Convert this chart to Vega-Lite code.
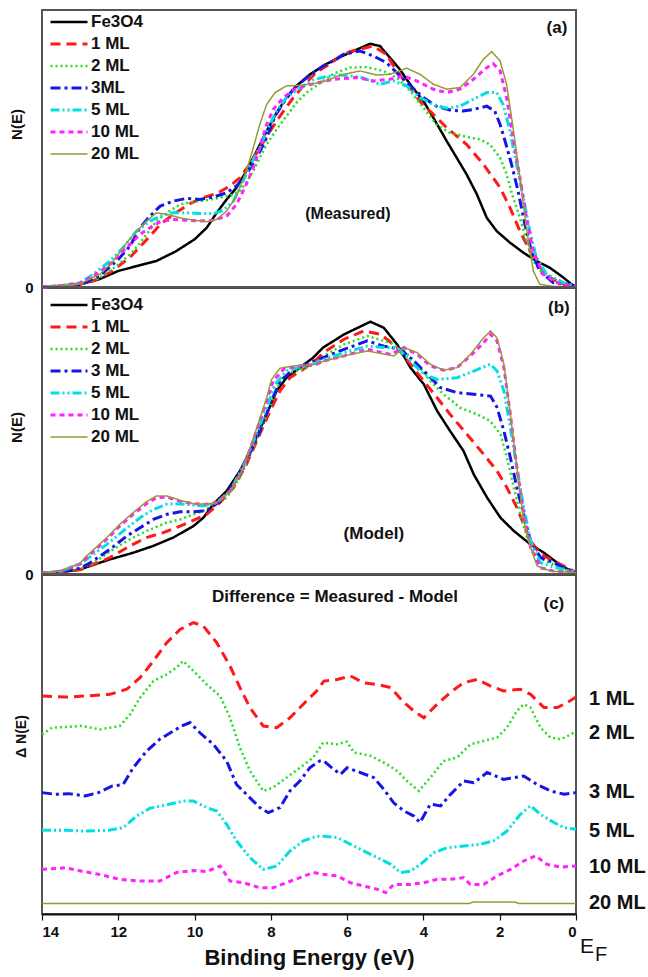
{
"$schema":"https://vega.github.io/schema/vega-lite/v6.json",
"padding":{"left":8,"top":9,"right":2,"bottom":5},
"background":"white",
"spacing":0,
"bounds":"flush",
"config":{"font":"Liberation Sans","view":{"stroke":"#555","strokeWidth":2},
"legend":{"orient":"none","padding":0,"symbolType":"stroke","symbolSize":1369,"labelFontSize":17,"labelFontWeight":"bold","labelFont":"Liberation Sans","labelColor":"#111","rowPadding":0,"clipHeight":21.8,"labelOffset":2}},
"datasets":{
"a":[
{"s":"Fe3O4","E":14,"v":0},{"s":"Fe3O4","E":13.5,"v":0.4},{"s":"Fe3O4","E":13,"v":1},{"s":"Fe3O4","E":12.5,"v":2.8},{"s":"Fe3O4","E":12,"v":5.8},{"s":"Fe3O4","E":11.5,"v":7.6},{"s":"Fe3O4","E":11,"v":9.4},{"s":"Fe3O4","E":10.5,"v":12.8},{"s":"Fe3O4","E":10,"v":17.2},{"s":"Fe3O4","E":9.68,"v":21.4},{"s":"Fe3O4","E":9.42,"v":26.8},{"s":"Fe3O4","E":9.16,"v":31.6},{"s":"Fe3O4","E":8.9,"v":35.9},{"s":"Fe3O4","E":8.64,"v":41.9},{"s":"Fe3O4","E":8.37,"v":49.1},{"s":"Fe3O4","E":8.11,"v":56.3},{"s":"Fe3O4","E":7.85,"v":62.9},{"s":"Fe3O4","E":7.59,"v":68.4},{"s":"Fe3O4","E":7.33,"v":72.6},{"s":"Fe3O4","E":6.97,"v":76.8},{"s":"Fe3O4","E":6.63,"v":79.8},{"s":"Fe3O4","E":6.28,"v":82.4},{"s":"Fe3O4","E":5.93,"v":84.6},{"s":"Fe3O4","E":5.4,"v":87.8},{"s":"Fe3O4","E":5.14,"v":87},{"s":"Fe3O4","E":4.88,"v":82.8},{"s":"Fe3O4","E":4.62,"v":78.6},{"s":"Fe3O4","E":4.35,"v":73.2},{"s":"Fe3O4","E":4.0,"v":67.1},{"s":"Fe3O4","E":3.74,"v":61.1},{"s":"Fe3O4","E":3.39,"v":52.7},{"s":"Fe3O4","E":3.13,"v":46.7},{"s":"Fe3O4","E":2.87,"v":40.7},{"s":"Fe3O4","E":2.6,"v":33.5},{"s":"Fe3O4","E":2.34,"v":25},{"s":"Fe3O4","E":2.08,"v":20.2},{"s":"Fe3O4","E":1.73,"v":16},{"s":"Fe3O4","E":1.38,"v":12.4},{"s":"Fe3O4","E":1.04,"v":9.4},{"s":"Fe3O4","E":0.69,"v":7},{"s":"Fe3O4","E":0.33,"v":3.4},{"s":"Fe3O4","E":0.12,"v":1},{"s":"Fe3O4","E":0,"v":0.2},
{"s":"1 ML","E":14,"v":0},{"s":"1 ML","E":13.5,"v":0.3},{"s":"1 ML","E":13,"v":1},{"s":"1 ML","E":12.65,"v":2.2},{"s":"1 ML","E":12.22,"v":5.2},{"s":"1 ML","E":11.7,"v":10.6},{"s":"1 ML","E":11.17,"v":18.4},{"s":"1 ML","E":10.9,"v":22.6},{"s":"1 ML","E":10.56,"v":26.2},{"s":"1 ML","E":10.12,"v":30.1},{"s":"1 ML","E":9.77,"v":32.3},{"s":"1 ML","E":9.42,"v":33.7},{"s":"1 ML","E":9.07,"v":36.5},{"s":"1 ML","E":8.81,"v":39.5},{"s":"1 ML","E":8.55,"v":44.3},{"s":"1 ML","E":8.29,"v":50.3},{"s":"1 ML","E":8.02,"v":56.3},{"s":"1 ML","E":7.76,"v":61.7},{"s":"1 ML","E":7.41,"v":68.4},{"s":"1 ML","E":7.15,"v":72.6},{"s":"1 ML","E":6.8,"v":77.6},{"s":"1 ML","E":6.45,"v":80.6},{"s":"1 ML","E":6.19,"v":83.2},{"s":"1 ML","E":5.93,"v":85},{"s":"1 ML","E":5.32,"v":87},{"s":"1 ML","E":4.97,"v":84},{"s":"1 ML","E":4.7,"v":78},{"s":"1 ML","E":4.35,"v":72},{"s":"1 ML","E":4.09,"v":67},{"s":"1 ML","E":3.74,"v":62.3},{"s":"1 ML","E":3.39,"v":57.5},{"s":"1 ML","E":2.87,"v":51.5},{"s":"1 ML","E":2.43,"v":44.3},{"s":"1 ML","E":1.99,"v":35.9},{"s":"1 ML","E":1.73,"v":28.6},{"s":"1 ML","E":1.47,"v":20.2},{"s":"1 ML","E":1.21,"v":13},{"s":"1 ML","E":0.93,"v":7},{"s":"1 ML","E":0.68,"v":3.4},{"s":"1 ML","E":0.33,"v":1},{"s":"1 ML","E":0,"v":0.2},
{"s":"2 ML","E":14,"v":0},{"s":"2 ML","E":13.5,"v":0.3},{"s":"2 ML","E":13,"v":1},{"s":"2 ML","E":12.48,"v":3.4},{"s":"2 ML","E":12.04,"v":7.6},{"s":"2 ML","E":11.6,"v":13},{"s":"2 ML","E":11.26,"v":19},{"s":"2 ML","E":11,"v":23.8},{"s":"2 ML","E":10.73,"v":26.8},{"s":"2 ML","E":10.38,"v":29.8},{"s":"2 ML","E":10.03,"v":30.8},{"s":"2 ML","E":9.68,"v":31.3},{"s":"2 ML","E":9.33,"v":32.3},{"s":"2 ML","E":9.07,"v":32.9},{"s":"2 ML","E":8.81,"v":34.7},{"s":"2 ML","E":8.64,"v":37.7},{"s":"2 ML","E":8.46,"v":41.9},{"s":"2 ML","E":8.29,"v":46.7},{"s":"2 ML","E":8.11,"v":51.5},{"s":"2 ML","E":7.85,"v":56.9},{"s":"2 ML","E":7.59,"v":61.7},{"s":"2 ML","E":7.33,"v":66.5},{"s":"2 ML","E":7.06,"v":70.2},{"s":"2 ML","E":6.71,"v":73.6},{"s":"2 ML","E":6.36,"v":77},{"s":"2 ML","E":5.93,"v":79.2},{"s":"2 ML","E":5.49,"v":79.4},{"s":"2 ML","E":5.05,"v":78},{"s":"2 ML","E":4.7,"v":75.6},{"s":"2 ML","E":4.35,"v":70.8},{"s":"2 ML","E":4.0,"v":64.7},{"s":"2 ML","E":3.66,"v":58.7},{"s":"2 ML","E":3.31,"v":55.7},{"s":"2 ML","E":2.87,"v":54.2},{"s":"2 ML","E":2.52,"v":53.3},{"s":"2 ML","E":2.26,"v":51.5},{"s":"2 ML","E":1.99,"v":46.7},{"s":"2 ML","E":1.82,"v":40.7},{"s":"2 ML","E":1.65,"v":32.3},{"s":"2 ML","E":1.47,"v":25},{"s":"2 ML","E":1.3,"v":16.6},{"s":"2 ML","E":1.12,"v":9.4},{"s":"2 ML","E":0.86,"v":4.6},{"s":"2 ML","E":0.51,"v":1.9},{"s":"2 ML","E":0,"v":0.2},
{"s":"3 ML","E":14,"v":0},{"s":"3 ML","E":13.5,"v":0.3},{"s":"3 ML","E":13,"v":0.7},{"s":"3 ML","E":12.5,"v":4},{"s":"3 ML","E":12.04,"v":9.4},{"s":"3 ML","E":11.69,"v":14.8},{"s":"3 ML","E":11.43,"v":21.4},{"s":"3 ML","E":11.17,"v":25.6},{"s":"3 ML","E":10.9,"v":29.2},{"s":"3 ML","E":10.56,"v":31},{"s":"3 ML","E":10.21,"v":32},{"s":"3 ML","E":9.86,"v":31.6},{"s":"3 ML","E":9.51,"v":32.5},{"s":"3 ML","E":9.16,"v":34},{"s":"3 ML","E":8.9,"v":36.5},{"s":"3 ML","E":8.64,"v":40.7},{"s":"3 ML","E":8.37,"v":46.7},{"s":"3 ML","E":8.11,"v":53.9},{"s":"3 ML","E":7.89,"v":61.7},{"s":"3 ML","E":7.67,"v":66.5},{"s":"3 ML","E":7.41,"v":71.4},{"s":"3 ML","E":7.06,"v":75.6},{"s":"3 ML","E":6.63,"v":79.8},{"s":"3 ML","E":6.28,"v":82.2},{"s":"3 ML","E":6.1,"v":84},{"s":"3 ML","E":5.66,"v":85.2},{"s":"3 ML","E":5.31,"v":83.4},{"s":"3 ML","E":4.97,"v":81},{"s":"3 ML","E":4.7,"v":77.4},{"s":"3 ML","E":4.35,"v":72.6},{"s":"3 ML","E":4.0,"v":68.4},{"s":"3 ML","E":3.66,"v":65.3},{"s":"3 ML","E":3.31,"v":63.9},{"s":"3 ML","E":2.96,"v":63.5},{"s":"3 ML","E":2.69,"v":64.1},{"s":"3 ML","E":2.34,"v":65.3},{"s":"3 ML","E":2.13,"v":63.5},{"s":"3 ML","E":1.99,"v":58.7},{"s":"3 ML","E":1.86,"v":52.7},{"s":"3 ML","E":1.69,"v":44.3},{"s":"3 ML","E":1.52,"v":34.7},{"s":"3 ML","E":1.34,"v":22.6},{"s":"3 ML","E":1.17,"v":13},{"s":"3 ML","E":0.95,"v":5.8},{"s":"3 ML","E":0.6,"v":1.6},{"s":"3 ML","E":0,"v":0.2},
{"s":"5 ML","E":14,"v":0},{"s":"5 ML","E":13.5,"v":0.4},{"s":"5 ML","E":13,"v":1.5},{"s":"5 ML","E":12.65,"v":4.6},{"s":"5 ML","E":12.22,"v":9.4},{"s":"5 ML","E":11.87,"v":14.2},{"s":"5 ML","E":11.52,"v":20.2},{"s":"5 ML","E":11.17,"v":23.8},{"s":"5 ML","E":10.9,"v":25.6},{"s":"5 ML","E":10.56,"v":26.8},{"s":"5 ML","E":10.21,"v":26.8},{"s":"5 ML","E":9.86,"v":26.5},{"s":"5 ML","E":9.51,"v":26.5},{"s":"5 ML","E":9.25,"v":27.7},{"s":"5 ML","E":8.98,"v":31},{"s":"5 ML","E":8.77,"v":37},{"s":"5 ML","E":8.55,"v":43.7},{"s":"5 ML","E":8.29,"v":50.3},{"s":"5 ML","E":8.07,"v":57.5},{"s":"5 ML","E":7.85,"v":63.5},{"s":"5 ML","E":7.59,"v":68.4},{"s":"5 ML","E":7.24,"v":71.8},{"s":"5 ML","E":6.89,"v":74.8},{"s":"5 ML","E":6.54,"v":76},{"s":"5 ML","E":6.19,"v":76.5},{"s":"5 ML","E":5.66,"v":75.8},{"s":"5 ML","E":5.14,"v":73.2},{"s":"5 ML","E":4.79,"v":74.4},{"s":"5 ML","E":4.44,"v":72.6},{"s":"5 ML","E":4.09,"v":68.4},{"s":"5 ML","E":3.74,"v":65.9},{"s":"5 ML","E":3.39,"v":64.5},{"s":"5 ML","E":3.04,"v":65.3},{"s":"5 ML","E":2.69,"v":67.8},{"s":"5 ML","E":2.34,"v":70.2},{"s":"5 ML","E":2.08,"v":70.2},{"s":"5 ML","E":1.91,"v":65.9},{"s":"5 ML","E":1.73,"v":56.3},{"s":"5 ML","E":1.56,"v":44.3},{"s":"5 ML","E":1.38,"v":32.3},{"s":"5 ML","E":1.21,"v":20.2},{"s":"5 ML","E":1.04,"v":10.6},{"s":"5 ML","E":0.77,"v":4.6},{"s":"5 ML","E":0.33,"v":1.6},{"s":"5 ML","E":0,"v":0.2},
{"s":"10 ML","E":14,"v":0},{"s":"10 ML","E":13.5,"v":0.5},{"s":"10 ML","E":13,"v":1.5},{"s":"10 ML","E":12.65,"v":4},{"s":"10 ML","E":12.22,"v":8.2},{"s":"10 ML","E":11.78,"v":14.2},{"s":"10 ML","E":11.43,"v":19},{"s":"10 ML","E":11.17,"v":21.4},{"s":"10 ML","E":10.9,"v":23.6},{"s":"10 ML","E":10.56,"v":24.4},{"s":"10 ML","E":10.21,"v":24.1},{"s":"10 ML","E":9.86,"v":23.8},{"s":"10 ML","E":9.51,"v":24.1},{"s":"10 ML","E":9.16,"v":25.6},{"s":"10 ML","E":8.9,"v":29.8},{"s":"10 ML","E":8.68,"v":35.9},{"s":"10 ML","E":8.46,"v":43.1},{"s":"10 ML","E":8.29,"v":50.3},{"s":"10 ML","E":8.11,"v":58.7},{"s":"10 ML","E":7.94,"v":64.1},{"s":"10 ML","E":7.67,"v":68.4},{"s":"10 ML","E":7.33,"v":71.8},{"s":"10 ML","E":6.89,"v":73.4},{"s":"10 ML","E":6.36,"v":75},{"s":"10 ML","E":5.75,"v":75.6},{"s":"10 ML","E":5.31,"v":74.4},{"s":"10 ML","E":4.88,"v":75},{"s":"10 ML","E":4.53,"v":76.2},{"s":"10 ML","E":4.18,"v":74.4},{"s":"10 ML","E":3.74,"v":71.4},{"s":"10 ML","E":3.39,"v":70.2},{"s":"10 ML","E":3.04,"v":71.4},{"s":"10 ML","E":2.69,"v":75},{"s":"10 ML","E":2.34,"v":79.2},{"s":"10 ML","E":2.17,"v":80.6},{"s":"10 ML","E":1.99,"v":78},{"s":"10 ML","E":1.82,"v":68.4},{"s":"10 ML","E":1.65,"v":54},{"s":"10 ML","E":1.47,"v":39.5},{"s":"10 ML","E":1.3,"v":25},{"s":"10 ML","E":1.12,"v":13},{"s":"10 ML","E":0.86,"v":4.6},{"s":"10 ML","E":0.51,"v":1.6},{"s":"10 ML","E":0,"v":0.2},
{"s":"20 ML","E":14,"v":0},{"s":"20 ML","E":13.5,"v":0.5},{"s":"20 ML","E":13,"v":1.2},{"s":"20 ML","E":12.48,"v":4.6},{"s":"20 ML","E":12.13,"v":9.4},{"s":"20 ML","E":11.78,"v":16},{"s":"20 ML","E":11.52,"v":20.2},{"s":"20 ML","E":11.26,"v":23.8},{"s":"20 ML","E":11,"v":26.8},{"s":"20 ML","E":10.73,"v":26.2},{"s":"20 ML","E":10.38,"v":25},{"s":"20 ML","E":10.03,"v":24.1},{"s":"20 ML","E":9.68,"v":23.6},{"s":"20 ML","E":9.42,"v":24.4},{"s":"20 ML","E":9.16,"v":27.4},{"s":"20 ML","E":8.9,"v":32.9},{"s":"20 ML","E":8.64,"v":41.9},{"s":"20 ML","E":8.46,"v":50.3},{"s":"20 ML","E":8.29,"v":58.7},{"s":"20 ML","E":8.11,"v":65.9},{"s":"20 ML","E":7.89,"v":70.2},{"s":"20 ML","E":7.59,"v":72.6},{"s":"20 ML","E":7.24,"v":72.8},{"s":"20 ML","E":6.89,"v":73.4},{"s":"20 ML","E":6.54,"v":74.4},{"s":"20 ML","E":6.19,"v":76.5},{"s":"20 ML","E":5.66,"v":78},{"s":"20 ML","E":5.23,"v":76.5},{"s":"20 ML","E":4.88,"v":76.8},{"s":"20 ML","E":4.44,"v":79},{"s":"20 ML","E":4.09,"v":76.8},{"s":"20 ML","E":3.74,"v":73.2},{"s":"20 ML","E":3.39,"v":71.4},{"s":"20 ML","E":3.04,"v":72},{"s":"20 ML","E":2.69,"v":76.8},{"s":"20 ML","E":2.43,"v":82.2},{"s":"20 ML","E":2.21,"v":85},{"s":"20 ML","E":1.99,"v":81.6},{"s":"20 ML","E":1.82,"v":73.2},{"s":"20 ML","E":1.65,"v":57.5},{"s":"20 ML","E":1.47,"v":39.5},{"s":"20 ML","E":1.3,"v":21.4},{"s":"20 ML","E":1.12,"v":5.8},{"s":"20 ML","E":0.95,"v":1},{"s":"20 ML","E":0.6,"v":0.2},{"s":"20 ML","E":0,"v":0}
],
"b":[
{"s":"Fe3O4","E":14,"v":0.3},{"s":"Fe3O4","E":13.5,"v":0.7},{"s":"Fe3O4","E":13,"v":1.5},{"s":"Fe3O4","E":12.83,"v":2.4},{"s":"Fe3O4","E":12.22,"v":5.1},{"s":"Fe3O4","E":11.61,"v":7.4},{"s":"Fe3O4","E":11.08,"v":9.8},{"s":"Fe3O4","E":10.56,"v":12.7},{"s":"Fe3O4","E":10.03,"v":16.7},{"s":"Fe3O4","E":9.77,"v":19.6},{"s":"Fe3O4","E":9.51,"v":24.3},{"s":"Fe3O4","E":9.16,"v":28.9},{"s":"Fe3O4","E":8.81,"v":35.9},{"s":"Fe3O4","E":8.46,"v":45.2},{"s":"Fe3O4","E":8.11,"v":55.6},{"s":"Fe3O4","E":7.85,"v":63.8},{"s":"Fe3O4","E":7.59,"v":68.4},{"s":"Fe3O4","E":7.24,"v":71.9},{"s":"Fe3O4","E":6.89,"v":75.4},{"s":"Fe3O4","E":6.63,"v":78.9},{"s":"Fe3O4","E":6.08,"v":83.5},{"s":"Fe3O4","E":5.39,"v":87.9},{"s":"Fe3O4","E":5.04,"v":85.8},{"s":"Fe3O4","E":4.69,"v":80},{"s":"Fe3O4","E":4.34,"v":71.9},{"s":"Fe3O4","E":3.99,"v":66.1},{"s":"Fe3O4","E":3.64,"v":56.8},{"s":"Fe3O4","E":3.3,"v":49.8},{"s":"Fe3O4","E":2.95,"v":42.9},{"s":"Fe3O4","E":2.68,"v":34.7},{"s":"Fe3O4","E":2.33,"v":26.6},{"s":"Fe3O4","E":1.98,"v":19.6},{"s":"Fe3O4","E":1.63,"v":15},{"s":"Fe3O4","E":1.19,"v":10.3},{"s":"Fe3O4","E":0.84,"v":7.4},{"s":"Fe3O4","E":0.49,"v":3.9},{"s":"Fe3O4","E":0.14,"v":1},{"s":"Fe3O4","E":0,"v":0.5},
{"s":"1 ML","E":14,"v":0.3},{"s":"1 ML","E":13.5,"v":0.7},{"s":"1 ML","E":13,"v":1.5},{"s":"1 ML","E":12.65,"v":3.4},{"s":"1 ML","E":12.22,"v":5.7},{"s":"1 ML","E":11.69,"v":9.8},{"s":"1 ML","E":11.26,"v":12.7},{"s":"1 ML","E":10.82,"v":14.4},{"s":"1 ML","E":10.38,"v":16.7},{"s":"1 ML","E":10.03,"v":18.7},{"s":"1 ML","E":9.68,"v":20.8},{"s":"1 ML","E":9.33,"v":24.9},{"s":"1 ML","E":8.98,"v":30.1},{"s":"1 ML","E":8.64,"v":38.2},{"s":"1 ML","E":8.29,"v":48.7},{"s":"1 ML","E":8.02,"v":56.8},{"s":"1 ML","E":7.76,"v":63.8},{"s":"1 ML","E":7.5,"v":68.4},{"s":"1 ML","E":7.15,"v":71.3},{"s":"1 ML","E":6.8,"v":74.8},{"s":"1 ML","E":6.61,"v":77.2},{"s":"1 ML","E":6.08,"v":81.8},{"s":"1 ML","E":5.56,"v":84.7},{"s":"1 ML","E":5.12,"v":83.5},{"s":"1 ML","E":4.69,"v":78.9},{"s":"1 ML","E":4.34,"v":73.1},{"s":"1 ML","E":3.99,"v":67.2},{"s":"1 ML","E":3.64,"v":61.4},{"s":"1 ML","E":3.3,"v":55.6},{"s":"1 ML","E":2.86,"v":48.7},{"s":"1 ML","E":2.42,"v":41.7},{"s":"1 ML","E":2.07,"v":35.9},{"s":"1 ML","E":1.81,"v":30.1},{"s":"1 ML","E":1.55,"v":23.1},{"s":"1 ML","E":1.37,"v":17.3},{"s":"1 ML","E":1.19,"v":11.5},{"s":"1 ML","E":0.93,"v":6.9},{"s":"1 ML","E":0.58,"v":4.5},{"s":"1 ML","E":0.23,"v":2.2},{"s":"1 ML","E":0,"v":0.5},
{"s":"2 ML","E":14,"v":0.3},{"s":"2 ML","E":13.5,"v":0.7},{"s":"2 ML","E":13,"v":1.8},{"s":"2 ML","E":12.65,"v":3.9},{"s":"2 ML","E":12.13,"v":8.6},{"s":"2 ML","E":11.69,"v":12.1},{"s":"2 ML","E":11.26,"v":15},{"s":"2 ML","E":10.73,"v":17.9},{"s":"2 ML","E":10.38,"v":19},{"s":"2 ML","E":10.03,"v":20.8},{"s":"2 ML","E":9.77,"v":22},{"s":"2 ML","E":9.51,"v":24.3},{"s":"2 ML","E":9.16,"v":26.6},{"s":"2 ML","E":8.81,"v":33.6},{"s":"2 ML","E":8.46,"v":44},{"s":"2 ML","E":8.2,"v":52.1},{"s":"2 ML","E":7.94,"v":61.4},{"s":"2 ML","E":7.76,"v":67.2},{"s":"2 ML","E":7.5,"v":70.2},{"s":"2 ML","E":7.15,"v":71.3},{"s":"2 ML","E":6.8,"v":73.6},{"s":"2 ML","E":6.61,"v":76},{"s":"2 ML","E":6.08,"v":80},{"s":"2 ML","E":5.47,"v":82.9},{"s":"2 ML","E":4.86,"v":80.6},{"s":"2 ML","E":4.51,"v":77.7},{"s":"2 ML","E":4.16,"v":73.1},{"s":"2 ML","E":3.82,"v":67.2},{"s":"2 ML","E":3.47,"v":62.6},{"s":"2 ML","E":3.03,"v":57.9},{"s":"2 ML","E":2.59,"v":55.6},{"s":"2 ML","E":2.25,"v":53.3},{"s":"2 ML","E":1.98,"v":48.7},{"s":"2 ML","E":1.81,"v":40.5},{"s":"2 ML","E":1.63,"v":30.1},{"s":"2 ML","E":1.46,"v":20.8},{"s":"2 ML","E":1.28,"v":12.7},{"s":"2 ML","E":1.02,"v":5.7},{"s":"2 ML","E":0.67,"v":3.9},{"s":"2 ML","E":0.31,"v":1.6},{"s":"2 ML","E":0,"v":0.5},
{"s":"3 ML","E":14,"v":0.3},{"s":"3 ML","E":13.5,"v":0.8},{"s":"3 ML","E":13,"v":2},{"s":"3 ML","E":12.74,"v":3.9},{"s":"3 ML","E":12.22,"v":8.6},{"s":"3 ML","E":11.78,"v":13.2},{"s":"3 ML","E":11.43,"v":16.1},{"s":"3 ML","E":11.08,"v":19},{"s":"3 ML","E":10.73,"v":20.8},{"s":"3 ML","E":10.38,"v":21.7},{"s":"3 ML","E":10.03,"v":21.7},{"s":"3 ML","E":9.68,"v":22},{"s":"3 ML","E":9.33,"v":25.4},{"s":"3 ML","E":8.98,"v":31.2},{"s":"3 ML","E":8.64,"v":39.4},{"s":"3 ML","E":8.29,"v":49.8},{"s":"3 ML","E":8.02,"v":59.1},{"s":"3 ML","E":7.76,"v":67.2},{"s":"3 ML","E":7.41,"v":71.3},{"s":"3 ML","E":7.07,"v":73.1},{"s":"3 ML","E":6.63,"v":75.4},{"s":"3 ML","E":6.08,"v":78.3},{"s":"3 ML","E":5.47,"v":81.2},{"s":"3 ML","E":5.04,"v":79.4},{"s":"3 ML","E":4.6,"v":78.3},{"s":"3 ML","E":4.25,"v":74.2},{"s":"3 ML","E":3.9,"v":69.6},{"s":"3 ML","E":3.55,"v":64.9},{"s":"3 ML","E":3.12,"v":63.2},{"s":"3 ML","E":2.68,"v":62.6},{"s":"3 ML","E":2.24,"v":62},{"s":"3 ML","E":2.07,"v":58},{"s":"3 ML","E":1.89,"v":49.8},{"s":"3 ML","E":1.72,"v":40.5},{"s":"3 ML","E":1.55,"v":30.1},{"s":"3 ML","E":1.37,"v":20.8},{"s":"3 ML","E":1.19,"v":11.5},{"s":"3 ML","E":0.93,"v":5.7},{"s":"3 ML","E":0.58,"v":3.9},{"s":"3 ML","E":0.31,"v":2.2},{"s":"3 ML","E":0,"v":0.5},
{"s":"5 ML","E":14,"v":0.3},{"s":"5 ML","E":13.5,"v":1},{"s":"5 ML","E":13,"v":3.5},{"s":"5 ML","E":12.83,"v":5.1},{"s":"5 ML","E":12.3,"v":10.3},{"s":"5 ML","E":11.87,"v":15},{"s":"5 ML","E":11.43,"v":19.6},{"s":"5 ML","E":11.08,"v":22.5},{"s":"5 ML","E":10.73,"v":24.3},{"s":"5 ML","E":10.38,"v":24.5},{"s":"5 ML","E":10.03,"v":24},{"s":"5 ML","E":9.77,"v":23.7},{"s":"5 ML","E":9.42,"v":24.9},{"s":"5 ML","E":9.07,"v":28.9},{"s":"5 ML","E":8.72,"v":37.6},{"s":"5 ML","E":8.38,"v":48.7},{"s":"5 ML","E":8.11,"v":58},{"s":"5 ML","E":7.89,"v":66.1},{"s":"5 ML","E":7.59,"v":70.7},{"s":"5 ML","E":7.24,"v":72.1},{"s":"5 ML","E":6.8,"v":73.6},{"s":"5 ML","E":6.61,"v":74.8},{"s":"5 ML","E":6.08,"v":77.1},{"s":"5 ML","E":5.47,"v":79.4},{"s":"5 ML","E":5.04,"v":78.9},{"s":"5 ML","E":4.69,"v":78.9},{"s":"5 ML","E":4.34,"v":74.2},{"s":"5 ML","E":3.99,"v":69.6},{"s":"5 ML","E":3.64,"v":67.8},{"s":"5 ML","E":3.12,"v":68.4},{"s":"5 ML","E":2.68,"v":70.7},{"s":"5 ML","E":2.24,"v":73.1},{"s":"5 ML","E":2.07,"v":70.7},{"s":"5 ML","E":1.89,"v":63.8},{"s":"5 ML","E":1.72,"v":51},{"s":"5 ML","E":1.55,"v":37},{"s":"5 ML","E":1.37,"v":23.1},{"s":"5 ML","E":1.19,"v":11.5},{"s":"5 ML","E":0.93,"v":3.9},{"s":"5 ML","E":0.58,"v":2.4},{"s":"5 ML","E":0.31,"v":1.6},{"s":"5 ML","E":0,"v":0.5},
{"s":"10 ML","E":14,"v":0.3},{"s":"10 ML","E":13.5,"v":1},{"s":"10 ML","E":13,"v":3.5},{"s":"10 ML","E":12.83,"v":5.7},{"s":"10 ML","E":12.3,"v":12.1},{"s":"10 ML","E":11.96,"v":16.7},{"s":"10 ML","E":11.61,"v":20.8},{"s":"10 ML","E":11.26,"v":24.5},{"s":"10 ML","E":11,"v":26.6},{"s":"10 ML","E":10.73,"v":26.8},{"s":"10 ML","E":10.38,"v":25.4},{"s":"10 ML","E":10.03,"v":24.5},{"s":"10 ML","E":9.68,"v":24.3},{"s":"10 ML","E":9.42,"v":24.9},{"s":"10 ML","E":9.07,"v":28.9},{"s":"10 ML","E":8.72,"v":37},{"s":"10 ML","E":8.38,"v":49.8},{"s":"10 ML","E":8.11,"v":60.3},{"s":"10 ML","E":7.94,"v":67.2},{"s":"10 ML","E":7.67,"v":71.3},{"s":"10 ML","E":7.24,"v":72.5},{"s":"10 ML","E":6.8,"v":73.1},{"s":"10 ML","E":6.61,"v":74.2},{"s":"10 ML","E":6.08,"v":76},{"s":"10 ML","E":5.47,"v":78.3},{"s":"10 ML","E":4.86,"v":76.5},{"s":"10 ML","E":4.51,"v":78.9},{"s":"10 ML","E":4.16,"v":76.5},{"s":"10 ML","E":3.82,"v":72.5},{"s":"10 ML","E":3.47,"v":71},{"s":"10 ML","E":3.12,"v":71.9},{"s":"10 ML","E":2.77,"v":76},{"s":"10 ML","E":2.42,"v":80.6},{"s":"10 ML","E":2.24,"v":83.5},{"s":"10 ML","E":2.07,"v":81.2},{"s":"10 ML","E":1.89,"v":71.9},{"s":"10 ML","E":1.72,"v":55.6},{"s":"10 ML","E":1.55,"v":37},{"s":"10 ML","E":1.37,"v":20.8},{"s":"10 ML","E":1.19,"v":9.2},{"s":"10 ML","E":0.93,"v":2.2},{"s":"10 ML","E":0.58,"v":1},{"s":"10 ML","E":0,"v":0.5},
{"s":"20 ML","E":14,"v":0.3},{"s":"20 ML","E":13.5,"v":1},{"s":"20 ML","E":13,"v":3.8},{"s":"20 ML","E":12.83,"v":6.3},{"s":"20 ML","E":12.3,"v":12.7},{"s":"20 ML","E":11.96,"v":17.3},{"s":"20 ML","E":11.61,"v":21.4},{"s":"20 ML","E":11.26,"v":25.2},{"s":"20 ML","E":11,"v":27.2},{"s":"20 ML","E":10.73,"v":27.2},{"s":"20 ML","E":10.38,"v":25.7},{"s":"20 ML","E":10.03,"v":24.5},{"s":"20 ML","E":9.68,"v":24.3},{"s":"20 ML","E":9.42,"v":24.9},{"s":"20 ML","E":9.07,"v":28.7},{"s":"20 ML","E":8.72,"v":37},{"s":"20 ML","E":8.38,"v":50.4},{"s":"20 ML","E":8.11,"v":61.4},{"s":"20 ML","E":7.98,"v":67.8},{"s":"20 ML","E":7.76,"v":71.7},{"s":"20 ML","E":7.41,"v":72.5},{"s":"20 ML","E":6.8,"v":73.1},{"s":"20 ML","E":6.61,"v":74.2},{"s":"20 ML","E":6.08,"v":76},{"s":"20 ML","E":5.47,"v":77.7},{"s":"20 ML","E":4.77,"v":76},{"s":"20 ML","E":4.51,"v":78.9},{"s":"20 ML","E":4.16,"v":77.1},{"s":"20 ML","E":3.82,"v":73.1},{"s":"20 ML","E":3.47,"v":71},{"s":"20 ML","E":3.12,"v":71.9},{"s":"20 ML","E":2.77,"v":76.5},{"s":"20 ML","E":2.42,"v":82.3},{"s":"20 ML","E":2.24,"v":84.7},{"s":"20 ML","E":2.07,"v":82.3},{"s":"20 ML","E":1.89,"v":73.1},{"s":"20 ML","E":1.72,"v":55.6},{"s":"20 ML","E":1.55,"v":37},{"s":"20 ML","E":1.37,"v":18.5},{"s":"20 ML","E":1.19,"v":9.2},{"s":"20 ML","E":1.02,"v":2.8},{"s":"20 ML","E":0.67,"v":1},{"s":"20 ML","E":0,"v":0.5}
],
"c":[
{"s":"1 ML","E":14,"v":64.1},{"s":"1 ML","E":13.39,"v":63.8},{"s":"1 ML","E":12.87,"v":64.1},{"s":"1 ML","E":12.22,"v":64.6},{"s":"1 ML","E":11.78,"v":66.1},{"s":"1 ML","E":11.43,"v":69.5},{"s":"1 ML","E":11.08,"v":74.4},{"s":"1 ML","E":10.73,"v":79.8},{"s":"1 ML","E":10.38,"v":83.7},{"s":"1 ML","E":10.03,"v":85.7},{"s":"1 ML","E":9.77,"v":84.7},{"s":"1 ML","E":9.42,"v":79.8},{"s":"1 ML","E":9.07,"v":72.9},{"s":"1 ML","E":8.81,"v":66.6},{"s":"1 ML","E":8.55,"v":60.7},{"s":"1 ML","E":8.2,"v":55.3},{"s":"1 ML","E":7.85,"v":54.8},{"s":"1 ML","E":7.5,"v":57.7},{"s":"1 ML","E":7.15,"v":61.7},{"s":"1 ML","E":6.8,"v":65.6},{"s":"1 ML","E":6.61,"v":68.5},{"s":"1 ML","E":6.26,"v":69},{"s":"1 ML","E":5.91,"v":70},{"s":"1 ML","E":5.56,"v":68},{"s":"1 ML","E":5.21,"v":67.5},{"s":"1 ML","E":4.86,"v":66.6},{"s":"1 ML","E":4.51,"v":62.2},{"s":"1 ML","E":4.25,"v":59.7},{"s":"1 ML","E":3.99,"v":57.7},{"s":"1 ML","E":3.64,"v":61.7},{"s":"1 ML","E":3.3,"v":65.1},{"s":"1 ML","E":2.95,"v":68},{"s":"1 ML","E":2.59,"v":69},{"s":"1 ML","E":2.25,"v":67.1},{"s":"1 ML","E":1.9,"v":65.6},{"s":"1 ML","E":1.46,"v":66.1},{"s":"1 ML","E":1.19,"v":64.6},{"s":"1 ML","E":0.84,"v":60.7},{"s":"1 ML","E":0.49,"v":60.7},{"s":"1 ML","E":0.23,"v":62.2},{"s":"1 ML","E":0,"v":63.8},
{"s":"2 ML","E":14,"v":52.8},{"s":"2 ML","E":13.74,"v":54.8},{"s":"2 ML","E":13.39,"v":55},{"s":"2 ML","E":12.96,"v":55.3},{"s":"2 ML","E":12.48,"v":54.3},{"s":"2 ML","E":11.96,"v":55.3},{"s":"2 ML","E":11.69,"v":58.7},{"s":"2 ML","E":11.43,"v":63.6},{"s":"2 ML","E":11.08,"v":68.5},{"s":"2 ML","E":10.73,"v":70.5},{"s":"2 ML","E":10.47,"v":72.5},{"s":"2 ML","E":10.3,"v":74.4},{"s":"2 ML","E":10.03,"v":71.5},{"s":"2 ML","E":9.68,"v":67.5},{"s":"2 ML","E":9.33,"v":64.1},{"s":"2 ML","E":9.07,"v":57.7},{"s":"2 ML","E":8.81,"v":48.9},{"s":"2 ML","E":8.55,"v":42.1},{"s":"2 ML","E":8.2,"v":36.2},{"s":"2 ML","E":7.94,"v":37.2},{"s":"2 ML","E":7.59,"v":40.1},{"s":"2 ML","E":7.24,"v":43},{"s":"2 ML","E":6.89,"v":46},{"s":"2 ML","E":6.63,"v":50.4},{"s":"2 ML","E":6.26,"v":49.9},{"s":"2 ML","E":6.01,"v":50.7},{"s":"2 ML","E":5.82,"v":47.5},{"s":"2 ML","E":5.38,"v":46.5},{"s":"2 ML","E":4.95,"v":44},{"s":"2 ML","E":4.69,"v":42.1},{"s":"2 ML","E":4.43,"v":39.1},{"s":"2 ML","E":4.12,"v":36.2},{"s":"2 ML","E":3.82,"v":40.1},{"s":"2 ML","E":3.47,"v":45},{"s":"2 ML","E":3.12,"v":46},{"s":"2 ML","E":2.77,"v":49.9},{"s":"2 ML","E":2.42,"v":50.9},{"s":"2 ML","E":2.07,"v":51.9},{"s":"2 ML","E":1.81,"v":54.8},{"s":"2 ML","E":1.55,"v":59.7},{"s":"2 ML","E":1.37,"v":61.7},{"s":"2 ML","E":1.19,"v":60.7},{"s":"2 ML","E":0.93,"v":54.8},{"s":"2 ML","E":0.67,"v":51.9},{"s":"2 ML","E":0.4,"v":51.4},{"s":"2 ML","E":0.14,"v":52.8},{"s":"2 ML","E":0,"v":53.8},
{"s":"3 ML","E":14,"v":35.7},{"s":"3 ML","E":13.65,"v":35.2},{"s":"3 ML","E":13.3,"v":35.4},{"s":"3 ML","E":12.87,"v":34.7},{"s":"3 ML","E":12.52,"v":35.7},{"s":"3 ML","E":12.17,"v":37.6},{"s":"3 ML","E":11.87,"v":38.1},{"s":"3 ML","E":11.61,"v":43},{"s":"3 ML","E":11.26,"v":47.9},{"s":"3 ML","E":10.91,"v":51.4},{"s":"3 ML","E":10.56,"v":53.8},{"s":"3 ML","E":10.34,"v":55.3},{"s":"3 ML","E":10.12,"v":56.3},{"s":"3 ML","E":9.86,"v":53.3},{"s":"3 ML","E":9.51,"v":49.9},{"s":"3 ML","E":9.16,"v":45},{"s":"3 ML","E":8.9,"v":38.1},{"s":"3 ML","E":8.64,"v":35.2},{"s":"3 ML","E":8.29,"v":31.3},{"s":"3 ML","E":8.07,"v":29.8},{"s":"3 ML","E":7.76,"v":31.3},{"s":"3 ML","E":7.5,"v":36.2},{"s":"3 ML","E":7.24,"v":39.1},{"s":"3 ML","E":6.98,"v":43},{"s":"3 ML","E":6.72,"v":45},{"s":"3 ML","E":6.61,"v":45},{"s":"3 ML","E":6.35,"v":42.5},{"s":"3 ML","E":6.17,"v":41.1},{"s":"3 ML","E":6.0,"v":43},{"s":"3 ML","E":5.65,"v":41.6},{"s":"3 ML","E":5.3,"v":40.1},{"s":"3 ML","E":5.04,"v":36.7},{"s":"3 ML","E":4.78,"v":32.7},{"s":"3 ML","E":4.51,"v":30.3},{"s":"3 ML","E":4.25,"v":28.8},{"s":"3 ML","E":4.09,"v":26.9},{"s":"3 ML","E":3.82,"v":32.3},{"s":"3 ML","E":3.55,"v":31.8},{"s":"3 ML","E":3.29,"v":35.2},{"s":"3 ML","E":2.94,"v":39.1},{"s":"3 ML","E":2.68,"v":38.6},{"s":"3 ML","E":2.33,"v":41.6},{"s":"3 ML","E":1.9,"v":39.6},{"s":"3 ML","E":1.37,"v":40.6},{"s":"3 ML","E":1.02,"v":38.1},{"s":"3 ML","E":0.67,"v":36.2},{"s":"3 ML","E":0.31,"v":35.2},{"s":"3 ML","E":0,"v":35.7},
{"s":"5 ML","E":14,"v":24.6},{"s":"5 ML","E":13.39,"v":24.6},{"s":"5 ML","E":12.87,"v":24.4},{"s":"5 ML","E":12.26,"v":24.6},{"s":"5 ML","E":11.87,"v":25.4},{"s":"5 ML","E":11.52,"v":28.8},{"s":"5 ML","E":11.17,"v":31.1},{"s":"5 ML","E":10.73,"v":32.1},{"s":"5 ML","E":10.3,"v":33.2},{"s":"5 ML","E":10.03,"v":33.2},{"s":"5 ML","E":9.68,"v":31.3},{"s":"5 ML","E":9.42,"v":30.3},{"s":"5 ML","E":9.16,"v":26.4},{"s":"5 ML","E":8.9,"v":21.5},{"s":"5 ML","E":8.55,"v":16.6},{"s":"5 ML","E":8.2,"v":13.1},{"s":"5 ML","E":7.85,"v":14.1},{"s":"5 ML","E":7.5,"v":18.5},{"s":"5 ML","E":7.15,"v":21.5},{"s":"5 ML","E":6.8,"v":22.9},{"s":"5 ML","E":6.61,"v":22.9},{"s":"5 ML","E":6.26,"v":22.5},{"s":"5 ML","E":5.91,"v":20.5},{"s":"5 ML","E":5.56,"v":18.5},{"s":"5 ML","E":5.21,"v":16.6},{"s":"5 ML","E":4.86,"v":14.6},{"s":"5 ML","E":4.6,"v":12.2},{"s":"5 ML","E":4.34,"v":12.6},{"s":"5 ML","E":4.08,"v":14.6},{"s":"5 ML","E":3.73,"v":18},{"s":"5 ML","E":3.38,"v":19.5},{"s":"5 ML","E":2.94,"v":20},{"s":"5 ML","E":2.51,"v":20.5},{"s":"5 ML","E":2.16,"v":21.5},{"s":"5 ML","E":1.81,"v":24.4},{"s":"5 ML","E":1.46,"v":29.3},{"s":"5 ML","E":1.19,"v":31.8},{"s":"5 ML","E":0.93,"v":29.3},{"s":"5 ML","E":0.58,"v":26.9},{"s":"5 ML","E":0.31,"v":25.4},{"s":"5 ML","E":0,"v":24.9},
{"s":"10 ML","E":14,"v":13.1},{"s":"10 ML","E":13.39,"v":13.6},{"s":"10 ML","E":12.96,"v":12.6},{"s":"10 ML","E":12.52,"v":11.7},{"s":"10 ML","E":11.96,"v":10.2},{"s":"10 ML","E":11.43,"v":9.7},{"s":"10 ML","E":10.91,"v":9.7},{"s":"10 ML","E":10.47,"v":12.2},{"s":"10 ML","E":10.03,"v":12.8},{"s":"10 ML","E":9.68,"v":12.5},{"s":"10 ML","E":9.33,"v":14.1},{"s":"10 ML","E":9.07,"v":9.7},{"s":"10 ML","E":8.72,"v":9.2},{"s":"10 ML","E":8.29,"v":7.7},{"s":"10 ML","E":7.94,"v":7.7},{"s":"10 ML","E":7.59,"v":9.2},{"s":"10 ML","E":7.24,"v":10.7},{"s":"10 ML","E":6.89,"v":12.2},{"s":"10 ML","E":6.63,"v":11.7},{"s":"10 ML","E":6.26,"v":11.2},{"s":"10 ML","E":5.91,"v":9.2},{"s":"10 ML","E":5.56,"v":8.2},{"s":"10 ML","E":5.21,"v":7.3},{"s":"10 ML","E":4.99,"v":6.3},{"s":"10 ML","E":4.78,"v":8.7},{"s":"10 ML","E":4.34,"v":8.7},{"s":"10 ML","E":3.99,"v":9.2},{"s":"10 ML","E":3.64,"v":10.2},{"s":"10 ML","E":3.3,"v":10.2},{"s":"10 ML","E":2.95,"v":10.7},{"s":"10 ML","E":2.77,"v":8.7},{"s":"10 ML","E":2.42,"v":8.7},{"s":"10 ML","E":2.07,"v":11.2},{"s":"10 ML","E":1.72,"v":13.1},{"s":"10 ML","E":1.37,"v":15.6},{"s":"10 ML","E":1.06,"v":17.1},{"s":"10 ML","E":0.76,"v":14.6},{"s":"10 ML","E":0.41,"v":13.8},{"s":"10 ML","E":0,"v":14.1},
{"s":"20 ML","E":14,"v":3.1},{"s":"20 ML","E":2.8,"v":3.1},{"s":"20 ML","E":2.7,"v":3.5},{"s":"20 ML","E":1.6,"v":3.5},{"s":"20 ML","E":1.5,"v":3.1},{"s":"20 ML","E":0,"v":3.1}
]},
"resolve":{"scale":{"color":"independent","strokeDash":"independent","strokeWidth":"independent"},"legend":{"color":"independent","strokeDash":"independent","strokeWidth":"independent"}},
"vconcat":[
{"width":534,"height":277,
"layer":[
{"data":{"name":"a"},"mark":{"type":"line"},
"encoding":{
"x":{"field":"E","type":"quantitative","scale":{"domain":[0,14],"reverse":true,"nice":false,"zero":false},"axis":{"title":null,"labels":false,"ticks":false,"grid":false,"domainColor":"#111","domainWidth":2.5}},
"y":{"field":"v","type":"quantitative","scale":{"domain":[0,100],"nice":false},"axis":{"title":"N(E)","values":[0],"grid":false,"ticks":false,"domain":false,"labelFontSize":15,"labelFontWeight":"bold","labelColor":"#111","labelPadding":9,"titleFontSize":15,"titleFontWeight":"bold","titleColor":"#111","titleX":-26,"titleY":114,"titleBaseline":"middle","titleAlign":"center"}},
"color":{"field":"s","type":"nominal","scale":{"domain":["Fe3O4","1 ML","2 ML","3 ML","5 ML","10 ML","20 ML"],"range":["#000000","#ff1a1a","#22dd22","#1515e6","#00e0e0","#ff22ff","#999933"]},"legend":{"title":null,"legendX":7,"legendY":1,"labelExpr":"datum.label === '3 ML' ? '3ML' : datum.label"}},
"strokeDash":{"field":"s","type":"nominal","scale":{"domain":["Fe3O4","1 ML","2 ML","3 ML","5 ML","10 ML","20 ML"],"range":[[1,0],[10,6],[2,3],[10,4,3,4],[9,3,2,3,2,3],[5,4],[1,0]]},"legend":{"title":null,"legendX":7,"legendY":1,"labelExpr":"datum.label === '3 ML' ? '3ML' : datum.label"}},
"strokeWidth":{"field":"s","type":"nominal","scale":{"type":"ordinal","domain":["Fe3O4","1 ML","2 ML","3 ML","5 ML","10 ML","20 ML"],"range":[2.5,3,2.5,3,3,3,1.5]},"legend":{"title":null,"legendX":7,"legendY":1,"labelExpr":"datum.label === '3 ML' ? '3ML' : datum.label"}}
}},
{"data":{"values":[{"E":0.5,"v":93.5,"t":"(a)","f":17},{"E":5.98,"v":26.4,"t":"(Measured)","f":16}]},"mark":{"type":"text","fontWeight":"bold","color":"#111","align":"center","baseline":"middle"},
"encoding":{"x":{"field":"E","type":"quantitative"},"y":{"field":"v","type":"quantitative"},"text":{"field":"t"},"size":{"field":"f","type":"quantitative","scale":null}}}
]},
{"width":534,"height":287,
"layer":[
{"data":{"name":"b"},"mark":{"type":"line"},
"encoding":{
"x":{"field":"E","type":"quantitative","scale":{"domain":[0,14],"reverse":true,"nice":false,"zero":false},"axis":{"title":null,"labels":false,"ticks":false,"grid":false,"domainColor":"#111","domainWidth":2.5}},
"y":{"field":"v","type":"quantitative","scale":{"domain":[0,100],"nice":false},"axis":{"title":"N(E)","values":[0],"grid":false,"ticks":false,"domain":false,"labelFontSize":15,"labelFontWeight":"bold","labelColor":"#111","labelPadding":9,"titleFontSize":15,"titleFontWeight":"bold","titleColor":"#111","titleX":-26,"titleY":140,"titleBaseline":"middle","titleAlign":"center"}},
"color":{"field":"s","type":"nominal","scale":{"domain":["Fe3O4","1 ML","2 ML","3 ML","5 ML","10 ML","20 ML"],"range":["#000000","#ff1a1a","#22dd22","#1515e6","#00e0e0","#ff22ff","#999933"]},"legend":{"title":null,"legendX":7,"legendY":7}},
"strokeDash":{"field":"s","type":"nominal","scale":{"domain":["Fe3O4","1 ML","2 ML","3 ML","5 ML","10 ML","20 ML"],"range":[[1,0],[10,6],[2,3],[10,4,3,4],[9,3,2,3,2,3],[5,4],[1,0]]},"legend":{"title":null,"legendX":7,"legendY":7}},
"strokeWidth":{"field":"s","type":"nominal","scale":{"type":"ordinal","domain":["Fe3O4","1 ML","2 ML","3 ML","5 ML","10 ML","20 ML"],"range":[2.5,3,2.5,3,3,3,1.5]},"legend":{"title":null,"legendX":7,"legendY":7}}
}},
{"data":{"values":[{"E":0.45,"v":92.7,"t":"(b)"},{"E":5.3,"v":13.9,"t":"(Model)"}]},"mark":{"type":"text","fontSize":17,"fontWeight":"bold","color":"#111","align":"center","baseline":"middle"},
"encoding":{"x":{"field":"E","type":"quantitative"},"y":{"field":"v","type":"quantitative"},"text":{"field":"t"}}}
]},
{"width":534,"height":340,
"layer":[
{"data":{"name":"c"},"mark":{"type":"line"},
"encoding":{
"x":{"field":"E","type":"quantitative","scale":{"domain":[0,14],"reverse":true,"nice":false,"zero":false},"axis":{"title":"Binding Energy (eV)","values":[0,1,2,3,4,5,6,7,8,9,10,11,12,13,14],"labelExpr":"datum.value % 2 === 0 ? datum.label : ''","grid":false,"domainColor":"#111","domainWidth":2,"tickColor":"#111","tickWidth":1.2,"tickSize":{"condition":{"test":"datum.value % 2 === 0","value":6},"value":4},"labelFontSize":15,"labelFontWeight":"bold","labelColor":"#111","labelPadding":4,"titleFontSize":22,"titleFontWeight":"bold","titleColor":"#111","titlePadding":8}},
"y":{"field":"v","type":"quantitative","scale":{"domain":[0,100],"nice":false},"axis":{"title":"Δ N(E)","labels":false,"grid":false,"ticks":false,"domain":false,"titleFontSize":14,"titleFontWeight":"bold","titleColor":"#111","titleX":-21,"titleY":162,"titleBaseline":"middle","titleAlign":"center"}},
"color":{"field":"s","type":"nominal","scale":{"domain":["1 ML","2 ML","3 ML","5 ML","10 ML","20 ML"],"range":["#ff1a1a","#22dd22","#1515e6","#00e0e0","#ff22ff","#999933"]},"legend":null},
"strokeDash":{"field":"s","type":"nominal","scale":{"domain":["1 ML","2 ML","3 ML","5 ML","10 ML","20 ML"],"range":[[10,6],[2,3],[10,4,3,4],[9,3,2,3,2,3],[5,4],[1,0]]},"legend":null},
"strokeWidth":{"field":"s","type":"nominal","scale":{"type":"ordinal","domain":["1 ML","2 ML","3 ML","5 ML","10 ML","20 ML"],"range":[3,2.5,3,3,3,1.5]},"legend":null}
}},
{"data":{"values":[{"E":0.58,"v":91.2,"t":"(c)"},{"E":6.32,"v":93.2,"t":"Difference = Measured - Model"}]},"mark":{"type":"text","fontSize":17,"fontWeight":"bold","color":"#111","align":"center","baseline":"middle"},
"encoding":{"x":{"field":"E","type":"quantitative"},"y":{"field":"v","type":"quantitative"},"text":{"field":"t"}}},
{"data":{"values":[{"E":0,"v":63.3,"t":"1 ML"},{"E":0,"v":53.2,"t":"2 ML"},{"E":0,"v":35.9,"t":"3 ML"},{"E":0,"v":24.4,"t":"5 ML"},{"E":0,"v":13.8,"t":"10 ML"},{"E":0,"v":3.2,"t":"20 ML"}]},"mark":{"type":"text","fontSize":20,"fontWeight":"bold","color":"#111","align":"left","baseline":"middle","dx":13},
"encoding":{"x":{"field":"E","type":"quantitative"},"y":{"field":"v","type":"quantitative"},"text":{"field":"t"}}},
{"data":{"values":[{"E":0,"v":-11.5,"t":"E"}]},"mark":{"type":"text","fontSize":21,"color":"#111","align":"left","baseline":"alphabetic","dx":4},
"encoding":{"x":{"field":"E","type":"quantitative"},"y":{"field":"v","type":"quantitative"},"text":{"field":"t"}}},
{"data":{"values":[{"E":0,"v":-13.8,"t":"F"}]},"mark":{"type":"text","fontSize":20,"color":"#111","align":"left","baseline":"alphabetic","dx":19},
"encoding":{"x":{"field":"E","type":"quantitative"},"y":{"field":"v","type":"quantitative"},"text":{"field":"t"}}}
]}
]
}
